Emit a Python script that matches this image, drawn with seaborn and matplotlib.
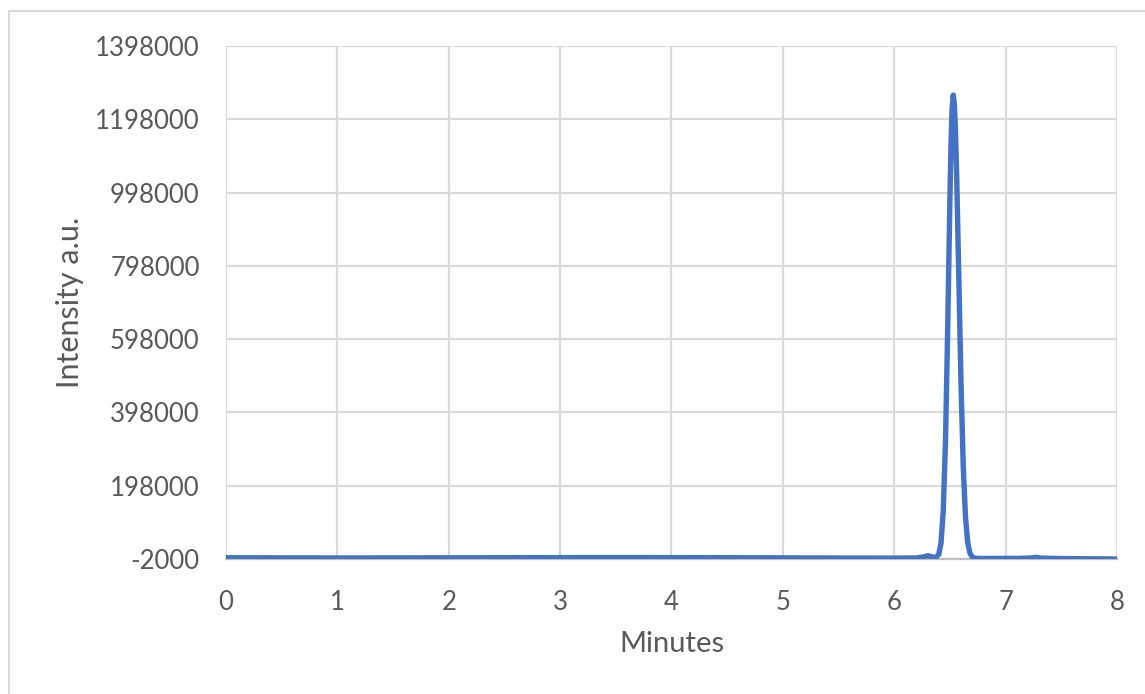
import numpy as np
import pandas as pd
import seaborn as sns
import matplotlib.pyplot as plt
from matplotlib.patches import Rectangle

sns.set_theme(style="white")
plt.rcParams['font.family'] = ['Lato', 'DejaVu Sans']

# chromatogram (minutes, intensity)
minutes = [0.0, 0.5, 1.0, 1.5, 2.0, 2.5, 3.0, 3.5, 4.0, 4.5, 5.0, 5.5, 6.0,
           6.20, 6.26, 6.30, 6.34, 6.37, 6.40, 6.42, 6.44, 6.46, 6.48, 6.50,
           6.51, 6.52, 6.53, 6.54, 6.55, 6.56, 6.58, 6.60, 6.62, 6.64, 6.66,
           6.68, 6.70, 6.72, 6.76, 6.90, 7.10, 7.22, 7.27, 7.32, 7.50, 7.80, 8.0]
intensity = [1500, 1000, 800, 900, 1200, 1500, 1800, 1900, 1800, 1500, 1000, 600, 400,
             800, 3500, 7000, 4000, 1500, 10500, 41000, 127000, 315000, 622000, 980000,
             1129000, 1229000, 1264000, 1239000, 1167000, 1056000, 767000, 474000, 250000, 112000, 43000,
             14000, 3900, 500, -500, -500, -300, 500, 2500, 500, -800, -1500, -2000]

y_ticks = list(range(-2000, 1398001, 200000))
x_ticks = list(range(0, 9))

df = pd.DataFrame({"Minutes": minutes, "Intensity": intensity})

fig = plt.figure(figsize=(11.45, 6.94), dpi=100)
ax = fig.add_axes([0.1974, 0.1945, 0.7781, 0.7392])

sns.lineplot(data=df, x="Minutes", y="Intensity", ax=ax, color="#4472C4",
             linewidth=3.9, solid_capstyle="round", solid_joinstyle="round", zorder=3)

ax.set_xlim(0, 8)
ax.set_ylim(-2000, 1398000)
ax.set_xticks(x_ticks)
ax.set_yticks(y_ticks)
ax.set_yticklabels([str(v) for v in y_ticks])
ax.grid(True, color="#D9D9D9", linewidth=1.6)
for s in ["top", "right", "left"]:
    ax.spines[s].set_visible(False)
ax.spines["bottom"].set_color("#BFBFBF")
ax.spines["bottom"].set_linewidth(1.6)
ax.tick_params(axis="y", length=0, labelsize=18.5, colors="#595959", pad=19)
ax.tick_params(axis="x", length=0, labelsize=18.5, colors="#595959", pad=22)
ax.set_xlabel("Minutes", fontsize=21, color="#595959", labelpad=12)
ax.set_ylabel("Intensity a.u.", fontsize=22, color="#595959", labelpad=8)

# chart frame
fig.patches.append(Rectangle((9 / 1145, -0.05), 1.2, 1 - 11 / 694 + 0.05,
                             transform=fig.transFigure, fill=False,
                             edgecolor="#D9D9D9", linewidth=1.5))

fig.savefig("out.png", dpi=100)
